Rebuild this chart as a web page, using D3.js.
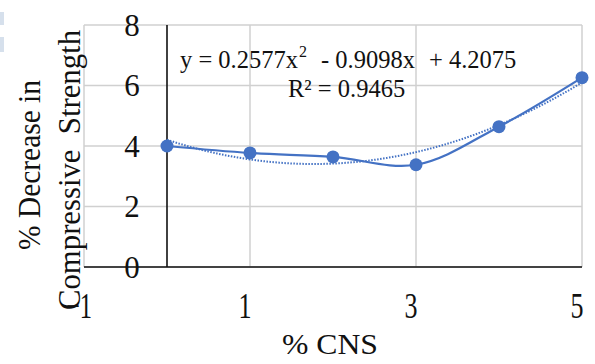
<!DOCTYPE html>
<html>
<head>
<meta charset="utf-8">
<script src="https://cdn.jsdelivr.net/npm/d3@7"></script>
<style>
  html, body { margin: 0; padding: 0; background: #fff; }
  svg, svg text { font-family: "Liberation Serif", "Times New Roman", serif; }
</style>
</head>
<body>
<svg id="chart" width="595" height="364"></svg>
<script>
// data
const cnsPct = [0, 1, 2, 3, 4, 5];
const decreasePct = [4.0, 3.77, 3.64, 3.38, 4.64, 6.26];
const xTicks = [-1, 1, 3, 5];
const yTicks = [0, 2, 4, 6, 8];
// trendline coefficients as printed on the chart (a*x^2 + b*x + c)
const trendCoef = [0.2577, -0.9098, 4.2075];
const trendR2 = 0.9465;

const width = 595, height = 364;
const margin = { top: 25, right: 13, bottom: 97, left: 84 };
const blue = "#4472c4";

const svg = d3.select("#chart");

// scales
const x = d3.scaleLinear().domain([-1, 5]).range([margin.left, width - margin.right]);
const y = d3.scaleLinear().domain([0, 8]).range([height - margin.bottom, margin.top]);

// little leftover boxes at the left edge of the crop
svg.append("rect").attr("x", 0).attr("y", 12).attr("width", 4).attr("height", 13).attr("fill", "#d6e0ec");
svg.append("rect").attr("x", 0).attr("y", 37).attr("width", 4).attr("height", 15).attr("fill", "#d6e0ec");

// gridlines
const grid = svg.append("g").attr("stroke", "#d0d0d0").attr("stroke-width", 1.5);
grid.selectAll(".hg").data(yTicks).join("line")
  .attr("x1", x(-1)).attr("x2", x(5))
  .attr("y1", d => y(d)).attr("y2", d => y(d));
grid.selectAll(".vg").data(xTicks).join("line")
  .attr("x1", d => x(d)).attr("x2", d => x(d))
  .attr("y1", y(0)).attr("y2", y(8));

// axes lines (y axis crosses at x = 0)
svg.append("line")
  .attr("x1", x(-1)).attr("x2", x(5)).attr("y1", y(0)).attr("y2", y(0))
  .attr("stroke", "#111").attr("stroke-width", 1.6);
svg.append("line")
  .attr("x1", x(0)).attr("x2", x(0)).attr("y1", y(0)).attr("y2", y(8))
  .attr("stroke", "#111").attr("stroke-width", 1.6);

// y tick labels, next to the x = 0 axis
svg.append("g").selectAll("text").data(yTicks).join("text")
  .attr("x", x(0) - 35)
  .attr("y", d => y(d))
  .attr("dy", "0.35em")
  .attr("text-anchor", "middle")
  .attr("font-size", 31)
  .attr("fill", "#111")
  .text(d => d);

// x tick labels
svg.append("g").selectAll("text").data(xTicks).join("text")
  .attr("x", d => x(d) - 5)
  .attr("y", 318)
  .attr("text-anchor", "middle")
  .attr("font-size", 36)
  .attr("textLength", d => String(d).length * 13)
  .attr("lengthAdjust", "spacingAndGlyphs")
  .attr("fill", "#111")
  .text(d => d < 0 ? "\u2212" + Math.abs(d) : d);

// trendline (polynomial, order 2) - dotted
const trendX = d3.range(0, 5.001, 0.05);
const poly = t => trendCoef[0] * t * t + trendCoef[1] * t + trendCoef[2];
svg.append("path")
  .datum(trendX)
  .attr("fill", "none")
  .attr("stroke", blue)
  .attr("stroke-width", 2)
  .attr("stroke-dasharray", "1.5,1.5")
  .attr("d", d3.line().x(d => x(d)).y(d => y(poly(d))));

// smoothed data line
const pts = cnsPct.map((c, i) => [c, decreasePct[i]]);
svg.append("path")
  .datum(pts)
  .attr("fill", "none")
  .attr("stroke", blue)
  .attr("stroke-width", 2.25)
  .attr("d", d3.line().x(d => x(d[0])).y(d => y(d[1])).curve(d3.curveCatmullRom.alpha(0.5)));

svg.append("g").selectAll("circle").data(pts).join("circle")
  .attr("cx", d => x(d[0]))
  .attr("cy", d => y(d[1]))
  .attr("r", 6.5)
  .attr("fill", blue);

// trendline equation
const eq = svg.append("g").attr("fill", "#111").attr("font-size", 24.5);
const eq1 = eq.append("text").attr("x", 180).attr("y", 68);
eq1.append("tspan").text(`y = ${trendCoef[0]}x`);
eq1.append("tspan").attr("dx", 1).attr("dy", -11).attr("font-size", 16).text("2");
eq.append("text").attr("x", 321).attr("y", 68).text(`- ${Math.abs(trendCoef[1])}x`);
eq.append("text").attr("x", 429).attr("y", 68).text(`+ ${trendCoef[2]}`);
eq.append("text").attr("x", 288).attr("y", 97).text(`R\u00b2 = ${trendR2}`);

// axis titles
svg.append("text")
  .attr("x", 330).attr("y", 354)
  .attr("text-anchor", "middle")
  .attr("font-size", 30)
  .attr("textLength", 96).attr("lengthAdjust", "spacingAndGlyphs")
  .attr("fill", "#111")
  .text("% CNS");

svg.append("text")
  .attr("transform", "translate(40,165) rotate(-90)")
  .attr("text-anchor", "middle")
  .attr("font-size", 31)
  .attr("textLength", 170).attr("lengthAdjust", "spacingAndGlyphs")
  .attr("fill", "#111")
  .text("% Decrease in");
svg.append("text")
  .attr("transform", "translate(80,170) rotate(-90)")
  .attr("text-anchor", "middle")
  .attr("font-size", 31)
  .attr("textLength", 280).attr("lengthAdjust", "spacingAndGlyphs")
  .attr("fill", "#111")
  .style("white-space", "pre")
  .text("Compressive  Strength");
</script>
</body>
</html>
